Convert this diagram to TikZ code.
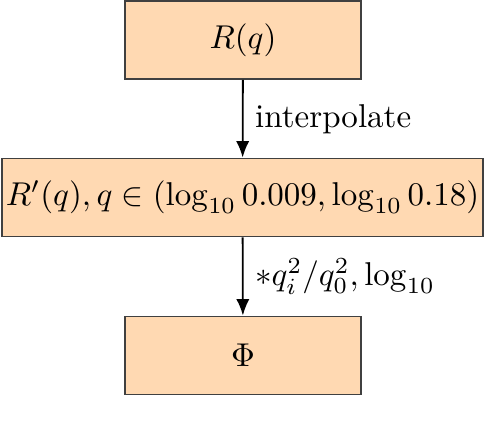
\documentclass[tikz,border=0pt]{standalone}
\usepackage{amsmath,amssymb}
\usepackage{tikz}
\usetikzlibrary{arrows.meta}

\begin{document}
\begin{tikzpicture}[x=0.303pt,y=-0.303pt,
  flowbox/.style={draw=black!75,fill=orange!30,line width=0.5pt,inner sep=0pt,minimum height=23.7pt},
  flowarrow/.style={-{Latex[length=5pt,width=4pt]},line width=0.55pt}]
\useasboundingbox (0,0) rectangle (486,430);
\node[flowbox,minimum width=71.5pt] (raw) at (243,40) {$R(q)$};
\node[flowbox,minimum width=145.7pt] (interp) at (242.5,197.5) {$R'(q), q \in (\log_{10} 0.009, \log_{10} 0.18)$};
\node[flowbox,minimum width=71.5pt] (phi) at (243,355.5) {$\Phi$};
\draw[flowarrow] (raw) -- node[right,inner sep=3.5pt] {interpolate} (interp);
\draw[flowarrow] (interp) -- node[right,inner sep=3.5pt] {$*q_i^2/q_0^2, \log_{10}$} (phi);
\end{tikzpicture}
\end{document}
